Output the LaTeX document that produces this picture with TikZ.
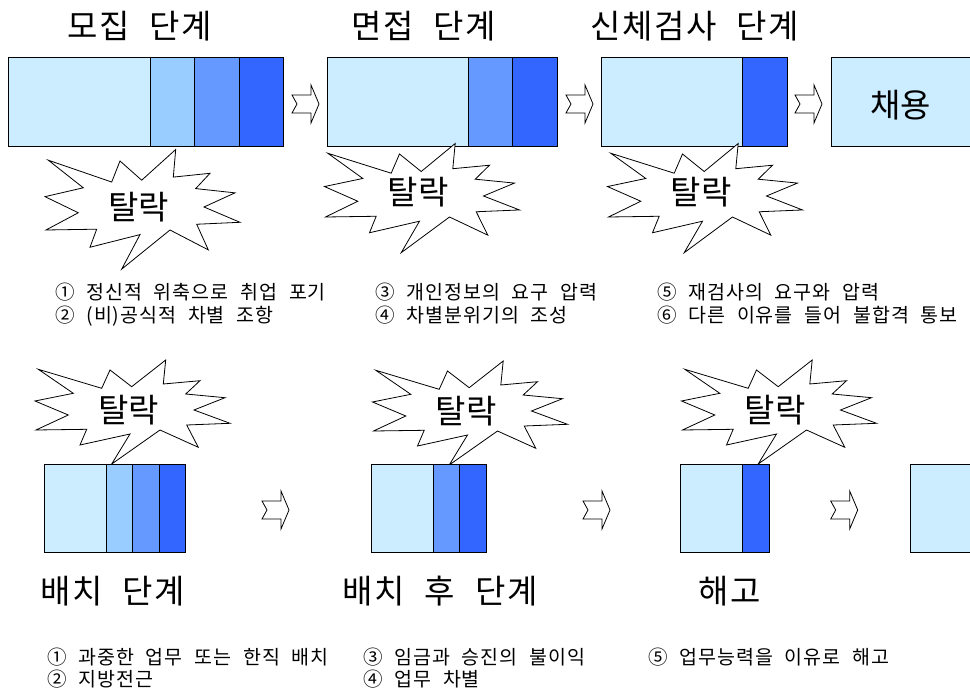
\documentclass[tikz,border=0pt]{standalone}
\usepackage{fontspec}
\setmainfont[WordSpace=2.2]{Noto Sans CJK KR}
\definecolor{cA}{HTML}{CCECFF}
\definecolor{cB}{HTML}{99CCFF}
\definecolor{cC}{HTML}{6699FF}
\definecolor{cD}{HTML}{3366FF}
\tikzset{
  seg/.style={draw=black, line width=0.8pt},
  hd/.style={font=\fontsize{33}{36}\selectfont\addfontfeature{LetterSpace=5}, inner sep=0},
  lbl/.style={font=\fontsize{19.5}{22}\selectfont\addfontfeature{LetterSpace=5}, anchor=base west, inner sep=0},
  startxt/.style={font=\fontsize{33}{36}\selectfont, inner sep=0},
  burst/.pic={\draw[line width=0.8pt, fill=white, line join=miter]
    (37.2,-50) -- (34.8,-26) -- (71.5,-29.3) -- (57.2,-16) -- (96.5,-12.3) -- (65.5,0)
    -- (101.5,13.3) -- (58.2,15) -- (69.8,37.3) -- (31.5,20) -- (-16.8,54) -- (1.5,24)
    -- (-48.5,35) -- (-41.8,19.3) -- (-92.5,20) -- (-60.2,5) -- (-93.5,-9) -- (-55.2,-16.7)
    -- (-90.2,-40.7) -- (-26.8,-21.7) -- (-18.5,-40) -- (3.2,-23.3) -- cycle;},
  barrow/.pic={\draw[line width=0.8pt, fill=white, line join=miter]
    (0,10) -- (19,10) -- (19,0) -- (27,19) -- (19,38) -- (19,28) -- (0,28) -- (5,19) -- cycle;}
}
\begin{document}
\begin{tikzpicture}[x=1pt,y=-1pt]
\useasboundingbox (0,0) rectangle (970,695);
% ---------- top row boxes ----------
\filldraw[seg, fill=cA] (8,57) rectangle (150,146);
\filldraw[seg, fill=cB] (150,57) rectangle (194,146);
\filldraw[seg, fill=cC] (194,57) rectangle (239,146);
\filldraw[seg, fill=cD] (239,57) rectangle (283,146);
\filldraw[seg, fill=cA] (327,57) rectangle (468,146);
\filldraw[seg, fill=cC] (468,57) rectangle (512,146);
\filldraw[seg, fill=cD] (512,57) rectangle (557,146);
\filldraw[seg, fill=cA] (601,57) rectangle (742,146);
\filldraw[seg, fill=cD] (742,57) rectangle (787,146);
\fill[cA] (831,57) rectangle (970,146);
\draw[seg] (970,57) -- (831,57) -- (831,146) -- (970,146);
\node[startxt] (hire) at (900.5,105) {채용};
% arrows top
\pic at (292,85) {barrow};
\pic at (566,85) {barrow};
\pic at (795,85) {barrow};
% headings top
\node[hd] (h1) at (140,26.5) {모집 단계};
\node[hd] (h2) at (423.5,26.5) {면접 단계};
\node[hd] (h3) at (695,26.5) {신체검사 단계};
% bursts top
\pic[yscale=1.15] at (138.5,207) {burst};
\node[startxt] (s1) at (138.5,207) {탈락};
\pic[yscale=1.05] at (418,196) {burst};
\node[startxt] (s2) at (418,192) {탈락};
\pic[yscale=1.05] at (701,196) {burst};
\node[startxt] (s3) at (701,192) {탈락};
% labels top
\node[lbl] (t1a) at (55,300) {① 정신적 위축으로 취업 포기};
\node[lbl] (t1b) at (55,323) {② (비)공식적 차별 조항};
\node[lbl] (t2a) at (375,300) {③ 개인정보의 요구 압력};
\node[lbl] (t2b) at (375,323) {④ 차별분위기의 조성};
\node[lbl] (t3a) at (657,300) {⑤ 재검사의 요구와 압력};
\node[lbl] (t3b) at (657,323) {⑥ 다른 이유를 들어 불합격 통보};
% ---------- bottom row ----------
\pic at (128.5,410) {burst};
\node[startxt] (s4) at (128.5,410) {탈락};
\pic at (466,411) {burst};
\node[startxt] (s5) at (466,411) {탈락};
\pic at (775,410) {burst};
\node[startxt] (s6) at (775,410) {탈락};
\filldraw[seg, fill=cA] (44,464) rectangle (106,552);
\filldraw[seg, fill=cB] (106,464) rectangle (132.7,552);
\filldraw[seg, fill=cC] (132.7,464) rectangle (159.3,552);
\filldraw[seg, fill=cD] (159.3,464) rectangle (185.7,552);
\filldraw[seg, fill=cA] (371,464) rectangle (433.3,552);
\filldraw[seg, fill=cC] (433.3,464) rectangle (459.3,552);
\filldraw[seg, fill=cD] (459.3,464) rectangle (486,552);
\filldraw[seg, fill=cA] (680.7,464) rectangle (742.7,552);
\filldraw[seg, fill=cD] (742.7,464) rectangle (769,552);
\fill[cA] (910.7,464) rectangle (970,552);
\draw[seg] (970,464) -- (910.7,464) -- (910.7,552) -- (970,552);
\pic at (262,491) {barrow};
\pic at (583,491) {barrow};
\pic at (830.7,491) {barrow};
\node[hd] (h4) at (112.5,591.5) {배치 단계};
\node[hd] (h5) at (440,591.5) {배치 후 단계};
\node[hd] (h6) at (729.5,591.5) {해고};
\node[lbl] (b1a) at (47,664) {① 과중한 업무 또는 한직 배치};
\node[lbl] (b1b) at (47,686) {② 지방전근};
\node[lbl] (b2a) at (363,664) {③ 임금과 승진의 불이익};
\node[lbl] (b2b) at (363,686) {④ 업무 차별};
\node[lbl] (b3a) at (648,664) {⑤ 업무능력을 이유로 해고};
\end{tikzpicture}
\end{document}
